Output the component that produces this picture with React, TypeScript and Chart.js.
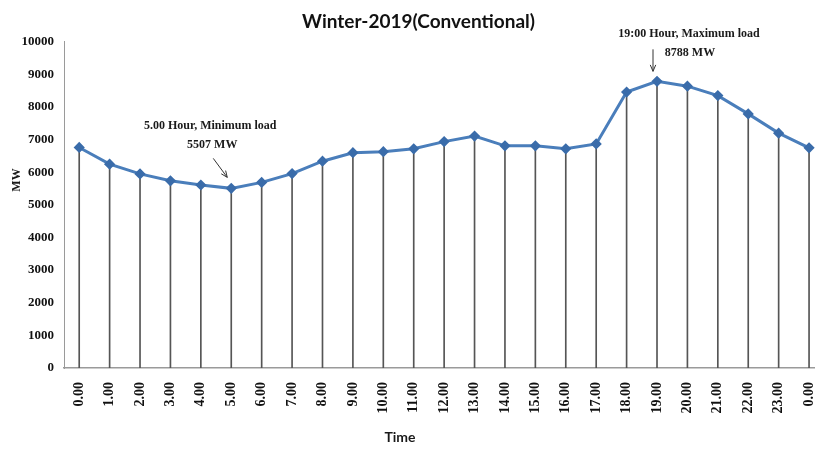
import React, { useEffect, useRef } from "react";
import { Chart, registerables } from "chart.js";

Chart.register(...registerables);

const hourLabels = [
  "0.00", "1.00", "2.00", "3.00", "4.00", "5.00", "6.00", "7.00", "8.00", "9.00",
  "10.00", "11.00", "12.00", "13.00", "14.00", "15.00", "16.00", "17.00", "18.00",
  "19.00", "20.00", "21.00", "22.00", "23.00", "0.00",
];

const loadMW = [
  6760, 6250, 5950, 5740, 5610, 5507, 5690, 5960, 6340, 6600, 6630, 6720, 6940,
  7110, 6810, 6810, 6720, 6870, 8460, 8788, 8640, 8350, 7790, 7200, 6750,
];

const chartTitle = "Winter-2019(Conventional)";
const xTitle = "Time";
const yTitle = "MW";

const minNote = ["5.00 Hour, Minimum load", "5507 MW"];
const maxNote = ["19:00 Hour, Maximum load", "8788 MW"];
const minIndex = 5;
const maxIndex = 19;

const serifBold = "bold 12px 'Liberation Serif', 'Times New Roman', serif";

function drawArrow(ctx: CanvasRenderingContext2D, x1: number, y1: number, x2: number, y2: number) {
  ctx.beginPath();
  ctx.moveTo(x1, y1);
  ctx.lineTo(x2, y2);
  const ang = Math.atan2(y2 - y1, x2 - x1);
  const len = 7;
  const spread = 0.4;
  ctx.moveTo(x2 - len * Math.cos(ang - spread), y2 - len * Math.sin(ang - spread));
  ctx.lineTo(x2, y2);
  ctx.lineTo(x2 - len * Math.cos(ang + spread), y2 - len * Math.sin(ang + spread));
  ctx.stroke();
}

const notesPlugin = {
  id: "notes",
  afterDraw(chart: any) {
    const ctx = chart.ctx as CanvasRenderingContext2D;
    const xs = chart.scales.x;
    const ys = chart.scales.y;
    ctx.save();
    ctx.fillStyle = "#1a1a1a";
    ctx.strokeStyle = "#333";
    ctx.lineWidth = 1;
    ctx.font = serifBold;
    ctx.textAlign = "center";
    ctx.textBaseline = "middle";

    // minimum note
    const px1 = xs.getPixelForValue(minIndex);
    const py1 = ys.getPixelForValue(loadMW[minIndex]);
    ctx.fillText(minNote[0], px1 - 21, py1 - 62);
    ctx.fillText(minNote[1], px1 - 19, py1 - 43);
    drawArrow(ctx, px1 - 18, py1 - 30, px1 - 4, py1 - 11);

    // maximum note
    const px2 = xs.getPixelForValue(maxIndex);
    const py2 = ys.getPixelForValue(loadMW[maxIndex]);
    ctx.fillText(maxNote[0], px2 + 32, py2 - 47);
    ctx.fillText(maxNote[1], px2 + 33, py2 - 28);
    drawArrow(ctx, px2 - 4, py2 - 32, px2 - 4, py2 - 10);

    // axis titles
    ctx.font = "bold 14px Lato, 'DejaVu Sans Condensed', sans-serif";
    ctx.fillText(xTitle, 400, 437);
    ctx.font = "bold 12px 'Liberation Serif', 'Times New Roman', serif";
    ctx.translate(17, 180);
    ctx.rotate(-Math.PI / 2);
    ctx.fillText(yTitle, 0, 0);
    ctx.restore();
  },
};

export default function App() {
  const ref = useRef<HTMLCanvasElement | null>(null);

  useEffect(() => {
    if (!ref.current) return;
    const chart = new Chart(ref.current, {
      type: "line",
      data: {
        labels: hourLabels,
        datasets: [
          {
            type: "line",
            data: loadMW,
            borderColor: "#4A7EBB",
            borderWidth: 3,
            pointStyle: "rectRot",
            pointRadius: 3.5,
            pointBackgroundColor: "#3A6CAA",
            pointBorderColor: "#3A6CAA",
            tension: 0,
            order: 0,
          },
          {
            type: "bar",
            data: loadMW,
            backgroundColor: "#555555",
            barThickness: 1,
            order: 1,
          } as any,
        ],
      },
      options: {
        responsive: false,
        animation: false,
        layout: { padding: { left: 0, right: 3, top: 0, bottom: 0 } },
        plugins: {
          legend: { display: false },
          tooltip: { enabled: false },
          title: {
            display: true,
            text: chartTitle,
            color: "#111",
            font: { family: "Lato, 'DejaVu Sans Condensed', sans-serif", size: 19, weight: "bold" },
            padding: { top: 10, bottom: 9 },
          },
        },
        scales: {
          x: {
            offset: true,
            grid: { display: false, drawTicks: false },
            border: { display: true, color: "#9a9a9a", width: 1.5 },
            ticks: {
              autoSkip: false,
              minRotation: 90,
              maxRotation: 90,
              padding: 14,
              color: "#111",
              font: { family: "'Liberation Serif', 'Times New Roman', serif", size: 14, weight: "bold" },
            },
            afterFit: (s: any) => {
              s.height = 81;
            },
          },
          y: {
            min: 0,
            max: 10000,
            grid: { display: false, drawTicks: false },
            border: { display: true, color: "#9a9a9a", width: 1 },
            ticks: {
              stepSize: 1000,
              padding: 10,
              color: "#111",
              callback: (v: any) => String(v),
              font: { family: "'Liberation Serif', 'Times New Roman', serif", size: 13, weight: "bold" },
            },
            afterFit: (s: any) => {
              s.width = 64;
            },
          },
        },
      },
      plugins: [notesPlugin],
    });
    return () => chart.destroy();
  }, []);

  return (
    <div style={{ position: "absolute", left: 0, top: 0, width: 815, height: 449, overflow: "hidden", background: "#fff" }}>
      <canvas ref={ref} width={840} height={449} style={{ display: "block" }} />
    </div>
  );
}
